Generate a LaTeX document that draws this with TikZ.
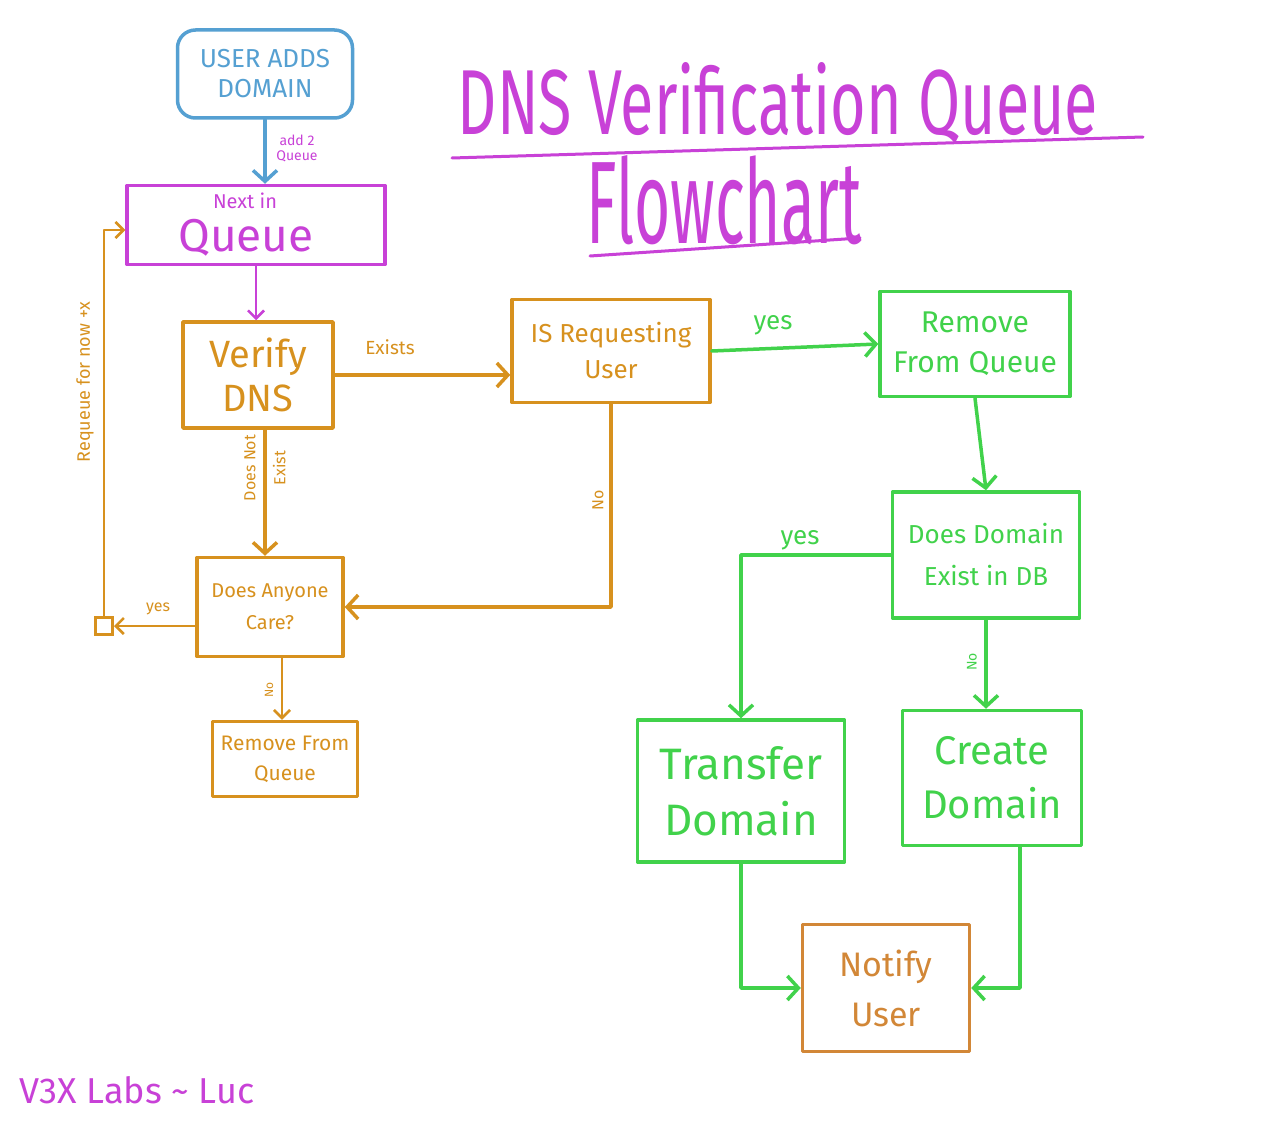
\documentclass[tikz,border=0pt]{standalone}
\usepackage{fontspec}
\setmainfont{Fira Sans}
\usetikzlibrary{arrows.meta}
\definecolor{cblue}{RGB}{85,160,210}
\definecolor{cmag}{RGB}{200,65,215}
\definecolor{corange}{RGB}{215,145,30}
\definecolor{cgreen}{RGB}{65,210,75}
\definecolor{cnotify}{RGB}{210,135,55}
\newcommand\fs[2]{\fontsize{#1}{#2}\selectfont}
\begin{document}
\begin{tikzpicture}[x=1pt,y=-1pt,
  box/.style={draw=#1, text=#1, line width=3.5pt, align=center, inner sep=0pt, line cap=round, line join=round},
  arr/.style={draw=#1, line width=3.5pt, line cap=round, line join=round, -{Straight Barb[length=11pt,width=24pt]}},
  thinarr/.style={draw=#1, line width=2.5pt, line cap=round, line join=round, -{Straight Barb[length=8pt,width=16pt]}},
  lab/.style={text=#1, align=center, inner sep=1pt}]
\useasboundingbox (0,0) rectangle (1280,1121);
\fill[white] (0,0) rectangle (1280,1121);

% title
\node[lab=cmag] (title1) at (778,103) {\resizebox{640pt}{72pt}{\fs{80}{80}DNS Verification Queue}};
\node[lab=cmag] (title2) at (724,200) {\resizebox{275pt}{88pt}{\fs{80}{80}Flowchart}};
\draw[cmag, line width=3pt, line cap=round] (452,158) -- (1143,137);
\draw[cmag, line width=3pt, line cap=round] (590,256) -- (860,238);

% nodes
\node[box=cblue, rounded corners=18pt, minimum width=175pt, minimum height=88pt, font=\fs{26}{30}] (user) at (265,74) {USER ADDS\\DOMAIN};
\node[box=cmag, minimum width=258pt, minimum height=79pt] (queue) at (256,225) {};
\node[lab=cmag, font=\fs{20}{20}] (nextin) at (245,201) {Next in};
\node[lab=cmag, font=\fs{46}{46}] (queuetxt) at (246,238) {Queue};
\node[box=corange, minimum width=150pt, minimum height=106pt, font=\fs{38}{44}] (verify) at (258,375) {Verify\\DNS};
\node[box=corange, minimum width=198pt, minimum height=103pt, font=\fs{26}{36}] (isreq) at (611,351) {IS Requesting\\User};
\node[box=cgreen, minimum width=190pt, minimum height=105pt, font=\fs{30}{40}] (remove) at (975,344) {Remove\\From Queue};
\node[box=cgreen, minimum width=187pt, minimum height=126pt, font=\fs{26}{42}] (dde) at (986,555) {Does Domain\\Exist in DB};
\node[box=cgreen, minimum width=207pt, minimum height=142pt, font=\fs{44}{56}] (transfer) at (741,791) {Transfer\\Domain};
\node[box=cgreen, minimum width=179pt, minimum height=135pt, font=\fs{40}{54}] (create) at (992,778) {Create\\Domain};
\node[box=cnotify, minimum width=167pt, minimum height=127pt, font=\fs{34}{50}] (notify) at (886,988) {Notify\\User};
\node[box=corange, minimum width=146pt, minimum height=99pt, font=\fs{20}{32}] (care) at (270,607) {Does Anyone\\Care?};
\node[box=corange, minimum width=145pt, minimum height=75pt, font=\fs{21}{30}] (rem2) at (285,759) {Remove From\\Queue};
\node[draw=corange, line width=3pt, minimum size=17pt, inner sep=0pt] (sq) at (104,626) {};
\node[lab=cmag, font=\fs{36}{36}] (sig) at (137,1090) {V3X Labs \char"007E{} Luc};

% connectors
\draw[arr=cblue] (user.south) -- (user.south |- queue.north);
\node[lab=cmag, font=\fs{14}{15}] (l1) at (297,148) {add 2\\Queue};
\draw[thinarr=cmag] (queue.south) -- (queue.south |- verify.north);
\draw[arr=corange] (verify.east) -- (verify.east -| isreq.west);
\node[lab=corange, font=\fs{19}{19}] (l2) at (390,347) {Exists};
\draw[arr=cgreen] (isreq.east) -- (remove.west);
\node[lab=cgreen, font=\fs{26}{26}] (l3) at (773,325) {yes};
\draw[arr=cgreen] (remove.south) -- (dde.north);
\draw[arr=cgreen] (dde.west) -| (transfer.north);
\node[lab=cgreen, font=\fs{26}{26}] (l4) at (800,540) {yes};
\draw[arr=cgreen] (dde.south) -- (dde.south |- create.north);
\node[lab=cgreen, rotate=90, font=\fs{14}{14}] (l5) at (972,662) {No};
\draw[arr=cgreen] (transfer.south) |- (notify.west);
\draw[arr=cgreen] ([xshift=28pt]create.south) |- (notify.east);
\draw[arr=corange] (isreq.south) |- (care.east);
\node[lab=corange, rotate=90, font=\fs{16}{16}] (l6) at (598,500) {No};
\draw[arr=corange] ([xshift=7pt]verify.south) -- ([xshift=7pt]verify.south |- care.north);
\node[lab=corange, rotate=90, font=\fs{16}{30}] (l7) at (265,468) {Does Not\\Exist};
\draw[thinarr=corange] (care.west |- sq.east) -- (sq.east);
\node[lab=corange, font=\fs{16}{16}] (l8) at (158,609) {yes};
\draw[thinarr=corange] (sq.north) |- ([yshift=-5pt]queue.west);
\node[lab=corange, rotate=90, font=\fs{18}{18}] (l9) at (85,382) {Requeue for now +x};
\draw[thinarr=corange] ([xshift=12pt]care.south) -- ([xshift=12pt]care.south |- rem2.north);
\node[lab=corange, rotate=90, font=\fs{12}{12}] (l10) at (269,690) {No};
\end{tikzpicture}
\end{document}
